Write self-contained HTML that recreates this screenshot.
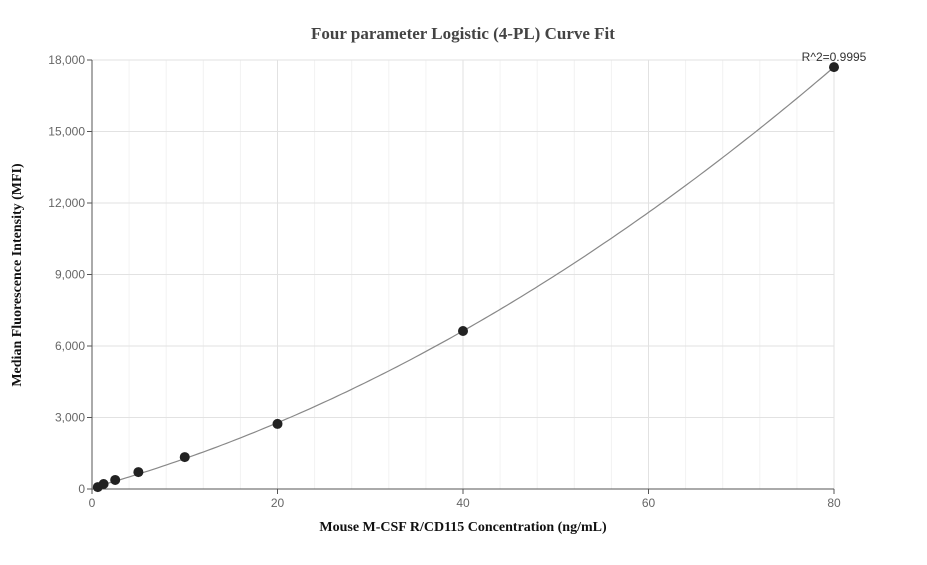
<!DOCTYPE html>
<html><head><meta charset="utf-8"><style>
body{margin:0;background:#fff;}
svg text{font-family:"Liberation Sans",sans-serif;}
</style></head><body>
<svg id="chart" width="927" height="560" xmlns="http://www.w3.org/2000/svg">
<text x="463" y="39" text-anchor="middle" style="font-family:'Liberation Serif',serif;font-weight:bold;font-size:17px" fill="#444">Four parameter Logistic (4-PL) Curve Fit</text>
<text x="463" y="531" text-anchor="middle" style="font-family:'Liberation Serif',serif;font-weight:bold;font-size:14px" fill="#111">Mouse M-CSF R/CD115 Concentration (ng/mL)</text>
<text transform="translate(21,275) rotate(-90)" text-anchor="middle" style="font-family:'Liberation Serif',serif;font-weight:bold;font-size:14px" fill="#111">Median Fluorescence Intensity (MFI)</text>
<g id="grid"></g><g id="axes"></g><g id="curve"></g><g id="points"></g>
<text x="834" y="61" text-anchor="middle" font-size="12" fill="#333">R^2=0.9995</text>
</svg>
<script>
const xValues=[0.625,1.25,2.5,5,10,20,40,80];
const yValues=[80,210,380,710,1340,2730,6630,17700];
const xTicks=[0,20,40,60,80];
const yTicks=[0,3000,6000,9000,12000,15000,18000];
const fitCoef=[50,108.4,1.403];
const NS='http://www.w3.org/2000/svg';
const X0=92,X1=834,Y0=489,Y1=60;
const sx=v=>X0+(v-0)/(80-0)*(X1-X0);
const sy=v=>Y0-(v-0)/(18000-0)*(Y0-Y1);
function mk(tag,attrs,parent){const e=document.createElementNS(NS,tag);for(const k in attrs)e.setAttribute(k,attrs[k]);document.getElementById(parent).appendChild(e);return e;}
for(let v=4;v<80;v+=4){if(v%20===0)continue;const l=mk('line',{x1:sx(v),x2:sx(v),y1:Y1,y2:Y0,stroke:'#f2f2f2'},'grid');

}
xTicks.forEach(v=>{if(v>0){const l=mk('line',{x1:sx(v),x2:sx(v),y1:Y1,y2:Y0,stroke:'#e2e2e2'},'grid');

}
const t=mk('line',{x1:sx(v),x2:sx(v),y1:Y0,y2:Y0+5,stroke:'#555'},'axes');


const tx=mk('text',{x:sx(v),y:Y0+18,'text-anchor':'middle','font-size':'12',fill:'#666'},'axes');tx.textContent=v;

});
yTicks.forEach(v=>{if(v>0){const l=mk('line',{x1:X0,x2:X1,y1:sy(v),y2:sy(v),stroke:'#e2e2e2'},'grid');

}
const t=mk('line',{x1:X0-5,x2:X0,y1:sy(v),y2:sy(v),stroke:'#555'},'axes');


const tx=mk('text',{x:X0-7,y:sy(v)+4,'text-anchor':'end','font-size':'12',fill:'#666'},'axes');tx.textContent=v.toLocaleString('en-US');

});
const ax=mk('path',{d:`M${X0},${Y1}V${Y0}H${X1}`,stroke:'#555',fill:'none'},'axes');


let d='';for(let i=0;i<=160;i++){const x=xValues[0]+(80-xValues[0])*i/160;const y=fitCoef[0]+fitCoef[1]*x+fitCoef[2]*x*x;d+=(i?'L':'M')+sx(x).toFixed(1)+','+sy(y).toFixed(1);}
const c=mk('path',{d:d,stroke:'#888',fill:'none','stroke-width':'1.2'},'curve');


xValues.forEach((x,i)=>{const p=mk('circle',{cx:sx(x),cy:sy(yValues[i]),r:5,fill:'#222'},'points');

});
</script>
</body></html>
